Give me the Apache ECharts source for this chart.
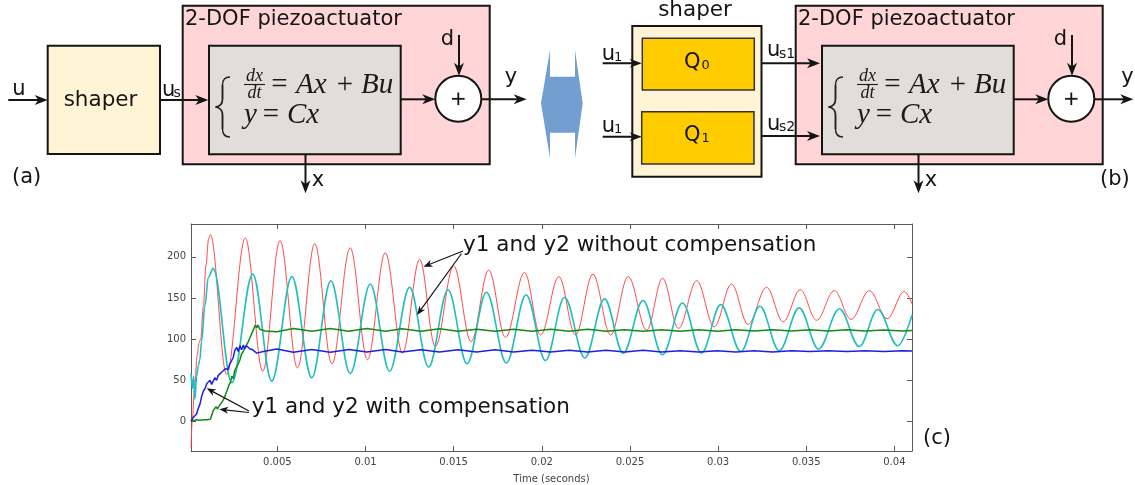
<!DOCTYPE html>
<html><head><meta charset="utf-8">
<script src="https://cdn.jsdelivr.net/npm/echarts@6/dist/echarts.min.js"></script>
<style>html,body{margin:0;padding:0;background:#fff}#c{width:1135px;height:485px}</style>
</head><body><div id="c"></div>
<script>
// ---------- data (time in seconds, value) ----------
const xTicks = [0.005, 0.01, 0.015, 0.02, 0.025, 0.03, 0.035, 0.04];
const yTicks = [0, 50, 100, 150, 200];

const redPts = [[0.0001,-32],[0.00017,0],[0.0003,40],[0.00045,80],[0.00055,95],[0.00065,100],[0.0008,140],[0.00095,190],[0.0011,222],[0.0012,227],
[0.00212,57],[0.00318,223],[0.00417,61],[0.00515,220],[0.00614,65],[0.00712,216],[0.00809,70],[0.00913,211],[0.01011,75],[0.01112,205],
[0.0121,83],[0.01307,197],[0.01396,91],[0.015,189],[0.01599,97],[0.01699,184],[0.01794,102],[0.01902,181],[0.01993,105],[0.02097,176],
[0.02191,105],[0.0229,179],[0.0239,105],[0.0249,176],[0.02595,111],[0.02685,174],[0.02775,113],[0.02879,171],[0.02978,115],[0.03076,167],
[0.0317,118],[0.03275,163],[0.03369,121],[0.03466,160],[0.03559,123],[0.03659,159],[0.03754,124],[0.03858,159],[0.03959,125],[0.04057,158],[0.041,143]];

const cyanPts = [[0.0001,58],[0.00018,40],[0.00025,55],[0.00032,27],[0.00042,55],[0.00051,68],[0.0006,75],[0.0007,97],[0.00089,141],[0.00108,175],[0.00136,186],
[0.00241,47],[0.0036,179],[0.00468,49],[0.00582,176],[0.00695,53],[0.00803,171],[0.00913,58],[0.01027,167],[0.01136,61],[0.0125,163],
[0.01358,66],[0.01468,160],[0.01576,70],[0.01686,157],[0.01799,71],[0.01911,154],[0.02021,74],[0.02129,151],[0.02244,77],[0.02356,149],
[0.02462,83],[0.02574,147],[0.02684,81],[0.02798,144],[0.02906,83],[0.03015,142],[0.03129,85],[0.03237,140],[0.03347,86],[0.0346,138],
[0.0357,88],[0.03688,137],[0.03801,91],[0.03906,136],[0.04019,92],[0.041,129]];

const greenPts = [[0.0001,0],[0.0002,2],[0.0004,2],[0.0006,1.5],[0.0008,2],[0.001,2],[0.0012,2.5],[0.0013,3],[0.00136,13],[0.00145,12],[0.00152,18],[0.0016,15],
[0.0017,19],[0.0018,20],[0.0019,25],[0.002,29],[0.00212,36],[0.00225,44],[0.00235,48],[0.00241,55],[0.0025,52],[0.00258,62],[0.00265,60],[0.00278,70],
[0.00288,75],[0.00297,82],[0.00307,85],[0.00315,90],[0.00325,93],[0.00335,97],[0.00345,102],[0.00355,107],[0.00365,112],[0.00375,117],[0.00383,114],
[0.0039,117],[0.004,112],[0.0041,113],[0.0043,110],[0.00497,109],[0.00591,113],[0.00696,109.5],[0.008,113],[0.00905,109.5],[0.01008,113],[0.01114,109.5],
[0.01207,112.5],[0.01315,109.5],[0.0142,112.5],[0.01525,109.5],[0.0163,112],[0.01735,109.5],[0.0184,112],[0.01945,109.5],[0.0205,112],[0.02155,109.5],
[0.0226,112],[0.02365,109.5],[0.0247,111.5],[0.02575,109.5],[0.0268,111.5],[0.02785,109.5],[0.0289,111.5],[0.02995,109.5],[0.031,111.5],[0.03205,110],
[0.0331,111.5],[0.03415,110],[0.0352,111.5],[0.03625,110],[0.0373,111.5],[0.03835,110],[0.0394,111],[0.04045,110],[0.041,110.5]];

const bluePts = [[0.0001,0],[0.0002,4],[0.0003,6],[0.00042,9],[0.0005,15],[0.00061,21],[0.0007,30],[0.0008,37],[0.0009,40],[0.001,46],[0.00108,48],[0.00118,50],
[0.00127,45],[0.00136,47],[0.00145,53],[0.00155,50],[0.00165,56],[0.00175,54],[0.00185,60],[0.00195,58],[0.00205,64],[0.00212,66],[0.0022,63],[0.0023,70],
[0.00241,74],[0.0025,78],[0.00258,86],[0.00265,84],[0.00269,90],[0.00278,85],[0.00288,92],[0.00297,87],[0.00307,93],[0.00315,88],[0.00325,92],[0.00335,90],
[0.00345,88],[0.0036,87],[0.00383,83],[0.0042,85],[0.00497,88],[0.00591,84],[0.00696,87.5],[0.008,84],[0.00905,87.5],[0.01008,84.5],[0.01114,87.5],
[0.01207,84.5],[0.01315,87],[0.0142,84.5],[0.01525,87],[0.0163,84.5],[0.01735,87],[0.0184,84.5],[0.01945,86.5],[0.0205,84.5],[0.02155,86.5],[0.0226,84.5],
[0.02365,86.5],[0.0247,84.5],[0.02575,86.5],[0.0268,84.5],[0.02785,86],[0.0289,84.5],[0.02995,86],[0.031,84.5],[0.03205,86],[0.0331,84.5],[0.03415,86],
[0.0352,85],[0.03625,86],[0.0373,85],[0.03835,86],[0.0394,85],[0.04045,86],[0.041,85.5]];

// ---------- diagram drawing helpers ----------
const els = [];
const INK = '#151515';
const SANS = '"DejaVu Sans"';
const SERIF = '"Liberation Serif"';
function rect(x1, y1, x2, y2, fill, lw, stroke) {
  els.push({type:'rect', z:100, shape:{x:x1, y:y1, width:x2-x1, height:y2-y1}, style:{fill:fill, stroke:stroke||INK, lineWidth:lw||2}});
}
function seg(x1, y1, x2, y2, lw, color) {
  els.push({type:'line', z:101, shape:{x1:x1, y1:y1, x2:x2, y2:y2}, style:{stroke:color||INK, lineWidth:lw||2}});
}
function arrow(x1, y1, x2, y2, lw, hl, hw) {
  hl = hl || 13; hw = hw || 5;
  const dx = x2-x1, dy = y2-y1, L = Math.hypot(dx, dy), ux = dx/L, uy = dy/L, px = -uy, py = ux;
  seg(x1, y1, x2-ux*hl*0.6, y2-uy*hl*0.6, lw || 2);
  els.push({type:'polygon', z:102, shape:{points:[[x2,y2],[x2-ux*hl+px*hw, y2-uy*hl+py*hw],[x2-ux*hl*0.72, y2-uy*hl*0.72],[x2-ux*hl-px*hw, y2-uy*hl-py*hw]]}, style:{fill:INK}});
}
function txt(s, x, y, size, o) {
  o = o || {};
  els.push({type:'text', z:103, x:x, y:y, style:{text:s, font:(o.italic?'italic ':'') + size + 'px ' + (o.family||SANS), fill:o.fill||INK, align:o.align||'left', verticalAlign:'middle'}});
}
function bez(x1,y1,c1x,c1y,c2x,c2y,x2,y2,lw) {
  els.push({type:'bezierCurve', z:101, shape:{x1:x1,y1:y1,cpx1:c1x,cpy1:c1y,cpx2:c2x,cpy2:c2y,x2:x2,y2:y2}, style:{stroke:'#222', lineWidth:lw||1.6, fill:null}});
}
function brace(ox) {
  const r = 230+ox, s = 222.5+ox, l = 215.5+ox;
  bez(r,77, 224.5+ox,77, s,79.5, s,85, 1.4);
  seg(s,85,s,99,1.9,'#222');
  bez(s,99, s,104, 219.5+ox,106.5, l,107, 1.7);
  bez(l,107, 219.5+ox,107.5, s,110, s,115, 1.7);
  seg(s,115,s,129,1.9,'#222');
  bez(s,129, s,134.5, 224.5+ox,137, r,137, 1.4);
}
function piezo(ox, outEnd, yLabelX) {
  rect(182.7+ox, 5.7, 489.7+ox, 164.3, '#FFD5D7', 2);
  txt('2-DOF piezoactuator', 185+ox, 19.4, 21);
  rect(209+ox, 45.7, 400.7+ox, 154.3, '#E1DDDB', 2);
  brace(ox);
  const eqc = '#1a1a1a';
  txt('dx', 254.5+ox, 75.9, 18, {italic:true, family:SERIF, align:'center', fill:eqc});
  seg(244+ox, 84.5, 265+ox, 84.5, 1.1, eqc);
  txt('dt', 254.5+ox, 93.4, 18, {italic:true, family:SERIF, align:'center', fill:eqc});
  txt('=', 279.5+ox, 85.2, 29, {family:SERIF, align:'center', fill:eqc});
  txt('Ax', 296+ox, 85.2, 29, {italic:true, family:SERIF, fill:eqc});
  txt('+', 345+ox, 85.2, 29, {family:SERIF, align:'center', fill:eqc});
  txt('Bu', 361+ox, 85.2, 29, {italic:true, family:SERIF, fill:eqc});
  txt('y', 244+ox, 115.2, 29, {italic:true, family:SERIF, fill:eqc});
  txt('=', 271+ox, 115.2, 29, {family:SERIF, align:'center', fill:eqc});
  txt('Cx', 287+ox, 115.2, 29, {italic:true, family:SERIF, fill:eqc});
  arrow(400.7+ox, 99.3, 435.3+ox, 99.3);
  els.push({type:'circle', z:100, shape:{cx:458.3+ox, cy:98.8, r:23}, style:{fill:'#fff', stroke:INK, lineWidth:2}});
  seg(452+ox, 98.8, 464.6+ox, 98.8, 1.8);
  seg(458.3+ox, 92.5, 458.3+ox, 105.1, 1.8);
  txt('d', 447.5+ox, 39.4, 21, {align:'center'});
  arrow(459+ox, 35, 459+ox, 75.8);
  arrow(481.3+ox, 99.3, outEnd, 99.3);
  txt('y', yLabelX, 77.7, 21, {align:'center'});
  arrow(305.5+ox, 154.3, 305.5+ox, 193.3);
  txt('x', 318+ox, 180.7, 21, {align:'center'});
}

// (a)
txt('u', 19, 89.3, 21, {align:'center'});
arrow(8.3, 100, 47.7, 100);
rect(47.7, 45.7, 160, 154, '#FFF5D6', 2);
txt('shaper', 100.5, 100.9, 21.5, {align:'center'});
txt('u', 162, 91, 21);
txt('s', 173.5, 93.8, 14);
arrow(160, 100, 208.3, 100);
piezo(0, 526.7, 511);
txt('(a)', 12, 178, 21);

// blue double arrow
els.push({type:'polygon', z:100, shape:{points:[[550,50],[550,76.7],[575,76.7],[575,50],[582.7,103.3],[575,158.3],[575,132.7],[550,132.7],[550,158.3],[541,103.3]]}, style:{fill:'#729FCF'}});

// (b)
txt('shaper', 695, 10.2, 21.5, {align:'center'});
rect(632.3, 26, 761.5, 176.7, '#FFF5D6', 2);
rect(642.3, 38.3, 754.3, 90, '#FFCC00', 1.5, '#333');
rect(641.7, 111.7, 754, 164, '#FFCC00', 1.5, '#333');
txt('Q', 684, 62.7, 21);
txt('0', 701.5, 65.8, 13);
txt('Q', 684, 135.2, 21);
txt('1', 701.5, 138.3, 13);
txt('u', 601.7, 54.4, 21);
txt('1', 614, 57.3, 13);
arrow(602.7, 63.3, 641.7, 63.3, 2, 12, 4.5);
txt('u', 601.7, 126.7, 21);
txt('1', 614, 129.6, 13);
arrow(602.7, 136.7, 641.7, 136.7, 2, 12, 4.5);
txt('u', 767, 51, 21);
txt('s1', 779, 54, 14);
arrow(761.5, 63.3, 820, 63.3);
txt('u', 767, 124.4, 21);
txt('s2', 779, 127.4, 14);
arrow(761.5, 136, 820, 136);
piezo(613, 1133.3, 1127.5);
txt('(b)', 1100, 180, 21);

// chart annotations
txt('y1 and y2 without compensation', 463, 245.6, 21.5);
arrow(463, 251, 423.5, 266.7, 1.2, 9, 3.5);
arrow(461.5, 253.5, 417, 315, 1.2, 9, 3.5);
txt('y1 and y2 with compensation', 251.7, 407.6, 21.5);
arrow(249, 411, 206.7, 388.3, 1.2, 9, 3.5);
arrow(249, 412.5, 219.3, 409.3, 1.2, 9, 3.5);
txt('(c)', 923, 438.5, 21);

// ---------- chart ----------
const AX = '#5a5a5a', LBL = '#444';
function xAx(pos, labels) {
  return {type:'value', min:0.0001, max:0.041, position:pos, gridIndex:0,
    axisLine:{show:true, onZero:false, lineStyle:{color:AX, width:1}},
    axisTick:{show:true, inside:true, length:5, customValues:xTicks, lineStyle:{color:AX}},
    axisLabel:{show:labels, customValues:xTicks, color:LBL, fontSize:10, fontFamily:'DejaVu Sans', margin:6, formatter:function(v){return String(v);}},
    splitLine:{show:false},
    name: labels ? 'Time (seconds)' : '', nameLocation:'middle', nameGap:23,
    nameTextStyle:{color:LBL, fontSize:10, fontFamily:'DejaVu Sans'}};
}
function yAx(pos, labels) {
  return {type:'value', min:-36, max:240, position:pos, gridIndex:0,
    axisLine:{show:true, onZero:false, lineStyle:{color:AX, width:1}},
    axisTick:{show:true, inside:true, length:5, customValues:yTicks, lineStyle:{color:AX}},
    axisLabel:{show:labels, customValues:yTicks, color:LBL, fontSize:10, fontFamily:'DejaVu Sans', margin:5},
    splitLine:{show:false}};
}
function ser(pts, color, width, smooth) {
  return {type:'line', data:pts, xAxisIndex:0, yAxisIndex:0, showSymbol:false, symbol:'none',
    smooth:smooth, smoothMonotone:'x', lineStyle:{color:color, width:width}, silent:true, animation:false};
}
const chart = echarts.init(document.getElementById('c'), null, {renderer:'canvas'});
chart.setOption({
  animation:false,
  backgroundColor:'#fff',
  grid:{left:191, top:224, width:721, height:230, containLabel:false},
  xAxis:[xAx('bottom', true), xAx('top', false)],
  yAxis:[yAx('left', true), yAx('right', false)],
  series:[
    ser(redPts, '#FF4A4A', 1, 0.36),
    ser(cyanPts, '#22BEBE', 1.6, 0.36),
    ser(greenPts, '#138A13', 1.5, false),
    ser(bluePts, '#1F1FE0', 1.5, false)
  ],
  graphic:{elements:els}
});
</script>
</body></html>
